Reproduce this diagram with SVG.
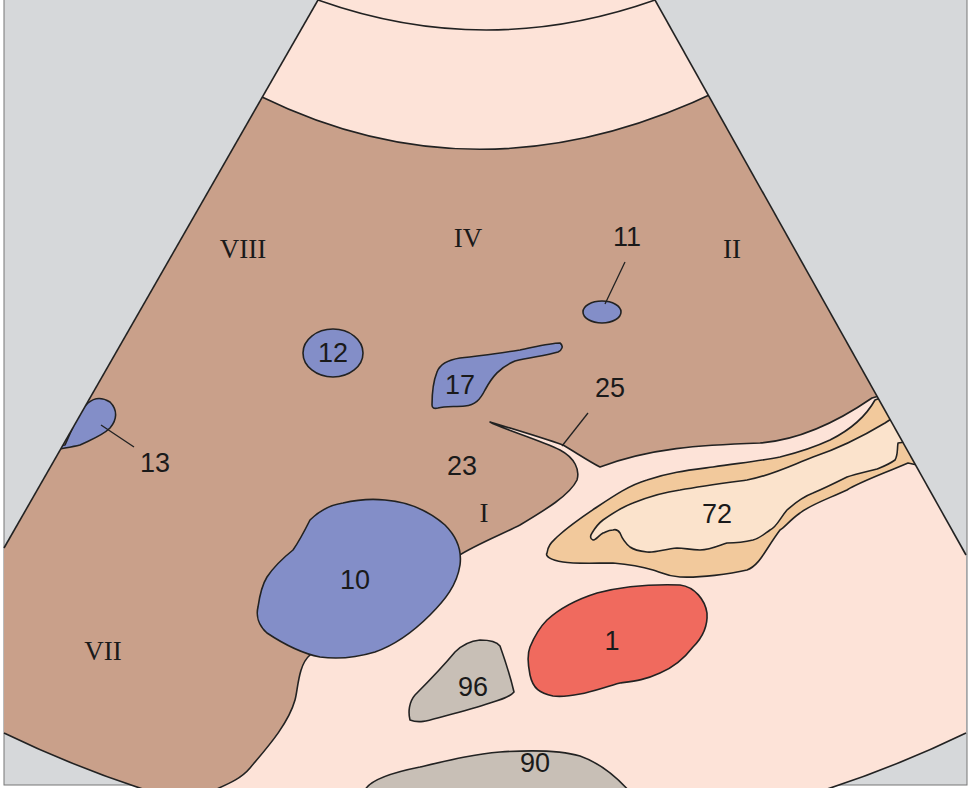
<svg xmlns="http://www.w3.org/2000/svg" width="971" height="788" viewBox="0 0 971 788">
<style>
.o{stroke:#222;stroke-width:1.6;stroke-linejoin:round}
.n{font-family:"Liberation Sans",Arial,sans-serif;font-size:27px;fill:#1a1a1a;text-anchor:middle}
.r{font-family:"Liberation Serif","Times New Roman",serif;font-size:27px;fill:#1a1a1a;text-anchor:middle}
.l{stroke:#222;stroke-width:1.3;fill:none}
</style>
<defs>
<clipPath id="fan"><path d="M318,0 L655,0 L966,555 L966,733 A1103,1103 0 0 1 4,733 L4,548 Z"/></clipPath>
</defs>
<rect x="4" y="-1" width="963" height="786" fill="#d6d8da" stroke="#777" stroke-width="1"/>
<g id="fan-bg">
<path d="M318,0 L655,0 L966,555 L966,733 A1103,1103 0 0 1 4,733 L4,548 Z" fill="#fde3d8"/>
</g>
<g clip-path="url(#fan)">
<g id="liver"><path class="o" fill="#c9a08a" d="M0,80 L262,97 Q483,205 720,90 L900,390 L872,398 C840,420 800,440 760,443 C700,445 650,448 600,467 C590,462 575,452 563,445 C540,437 510,428 490,422 C500,428 540,440 560,450 C575,458 580,470 577,480 C570,495 545,510 520,525 C500,535 475,545 458,556 L400,560 L310,655 C298,665 298,690 295,700 C288,725 265,750 250,768 C240,780 225,785 210,792 L0,792 Z"/></g>
<g id="n72"><path class="o" fill="#f2c99c" d="M875,400 L930,380 L940,470 L908,463 C880,475 860,482 847,490 C825,500 810,505 800,513 C790,520 785,527 780,530 C765,550 760,565 747,570 C730,574 700,578 680,577 C665,576 660,572 653,570 C640,566 625,564 613,563 C595,563 575,564 563,562 C550,560 545,556 547,553 C548,545 552,542 557,537 C570,525 585,515 597,507 C615,495 630,485 647,480 C670,472 690,470 713,467 C740,463 760,461 780,457 C800,452 815,447 830,440 C850,430 865,418 875,400 Z"/>
<path class="o" fill="#fbe3cc" d="M885,423 L920,400 L920,440 L898,443 C897,450 898,455 895,460 C888,465 882,467 877,469 C865,472 855,474 847,477 C835,483 825,488 813,493 C800,498 793,505 787,510 C780,518 777,527 770,530 C763,535 760,538 753,540 C745,542 735,543 727,543 C718,546 710,550 700,550 C690,550 685,548 677,548 C665,549 655,553 647,552 C638,551 634,550 630,547 C625,543 622,538 620,533 C618,530 616,529 613,530 C608,530 606,532 603,533 C598,536 596,540 593,540 C590,539 590,536 592,533 C595,528 599,523 603,520 C613,513 622,507 633,503 C648,497 665,492 680,490 C702,486 725,483 747,480 C770,476 792,465 813,457 C840,448 865,435 885,423 Z"/></g>
<g id="n13"><path class="o" fill="#838ec8" d="M40,448 L65,445 C72,430 78,412 88,403 C95,397 102,397 110,402 C118,410 117,420 110,428 C102,436 90,440 80,445 C72,447 60,449 40,452 Z"/></g>
<g id="n90"><path class="o" fill="#c8bfb6" d="M365,790 C370,780 395,772 420,767 C450,760 475,754 500,752 C530,750 560,750 580,756 C600,763 615,775 630,792 Z"/></g>
</g>
<g id="n10"><path class="o" fill="#838ec8" d="M310,520 C320,510 330,505 343,503 C360,499 375,499 385,500 C410,502 430,512 445,525 C457,537 462,550 460,565 C457,585 445,600 430,615 C415,630 395,645 375,652 C355,658 335,659 320,657 C305,654 285,645 267,633 C258,625 256,615 258,607 C260,593 262,585 267,577 C275,565 283,558 293,550 C300,540 305,530 310,520 Z"/></g>
<g id="n12"><ellipse class="o" fill="#838ec8" cx="333" cy="353" rx="30" ry="24"/></g>
<g id="n11"><ellipse class="o" fill="#838ec8" cx="602" cy="312" rx="19" ry="11"/></g>
<g id="n17"><path class="o" fill="#838ec8" d="M432,405 C432,395 433,382 437,372 C440,364 447,360 460,358 C480,356 500,353 520,350 C535,347 550,343 560,343 C564,346 562,350 558,352 C545,356 530,357 515,361 C500,367 492,377 485,390 C480,400 475,405 465,406 C455,407 445,406 438,408 C434,409 432,408 432,405 Z"/></g>
<g id="n1"><path class="o" fill="#f06a5e" d="M680,585 C695,587 705,600 707,613 C708,628 700,640 693,647 C683,660 672,668 660,673 C645,680 635,681 620,683 C605,687 592,692 580,694 C570,696 560,697 553,696 C540,693 533,689 530,675 C527,660 528,652 530,647 C535,635 540,627 547,620 C560,608 575,600 597,593 C620,587 650,584 680,585 Z"/></g>
<g id="n96"><path class="o" fill="#c8bfb6" d="M410,720 C408,712 409,702 415,695 C425,685 440,670 455,652 C462,645 470,641 480,640 C490,640 497,642 500,646 C505,660 510,675 514,692 C510,697 500,700 490,703 C475,708 460,712 445,716 C430,720 420,724 410,720 Z"/></g>
<g id="frame" fill="none" class="o">
<path d="M318,0 Q486,60 655,0"/>
<path d="M318,0 L4,548"/>
<path d="M655,0 L966,555"/>
<path d="M966,733 A1103,1103 0 0 1 4,733"/>
</g>
<g id="connectors">
<path class="l" d="M625,262 L605,304"/>
<path class="l" d="M101,425 L134,447"/>
<path class="l" d="M588,413 L562,446"/>
</g>
<g id="labels">
<text class="r" x="243" y="258">VIII</text>
<text class="r" x="468" y="247">IV</text>
<text class="r" x="732" y="258">II</text>
<text class="r" x="484" y="522">I</text>
<text class="r" x="103" y="660">VII</text>
<text class="n" x="627" y="246">11</text>
<text class="n" x="333" y="362">12</text>
<text class="n" x="460" y="394">17</text>
<text class="n" x="610" y="397">25</text>
<text class="n" x="155" y="472">13</text>
<text class="n" x="462" y="475">23</text>
<text class="n" x="717" y="523">72</text>
<text class="n" x="355" y="589">10</text>
<text class="n" x="612" y="650">1</text>
<text class="n" x="473" y="696">96</text>
<text class="n" x="535" y="772">90</text>
</g>
</svg>
